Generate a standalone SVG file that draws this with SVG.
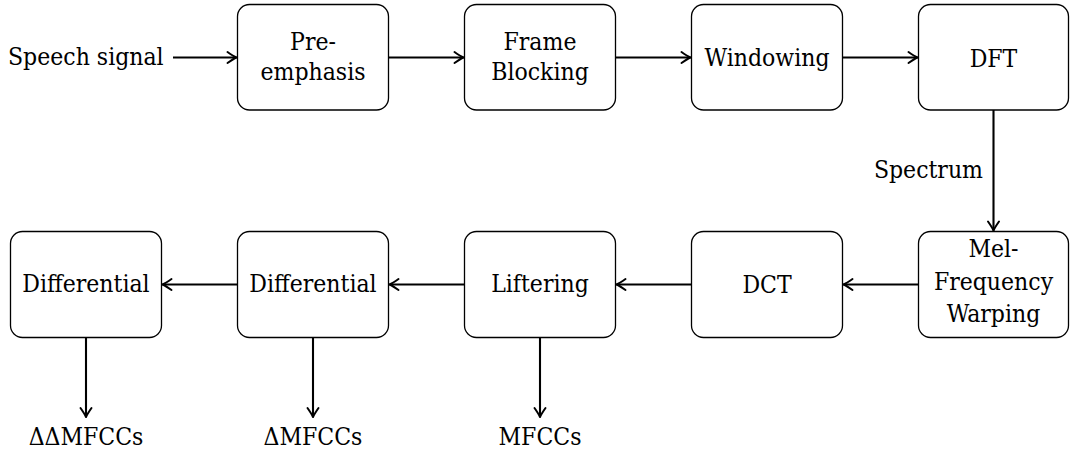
<svg xmlns="http://www.w3.org/2000/svg" width="1070" height="450" viewBox="0 0 1070 450">
  <style>
    .box { fill: #ffffff; stroke: #000000; stroke-width: 1.3; }
    .lbl { font-family: 'DejaVu Serif Condensed', 'DejaVu Serif', serif; font-size: 24.5px; fill: #000000; text-anchor: middle; }
    .lbl-l { text-anchor: start; }
    .lbl-r { text-anchor: end; }
    .edge { fill: none; stroke: #000000; stroke-width: 2.1; marker-end: url(#tip); }
  </style>
  <defs>
    <!-- curved-barb arrow tip, drawn in user units -->
    <marker id="tip" markerUnits="userSpaceOnUse" markerWidth="16" markerHeight="16" viewBox="-12 -8 14 16" refX="0" refY="0" orient="auto">
      <path d="M -9,-5.5 Q -3,-1.3 0,0 Q -3,1.3 -9,5.5" fill="none" stroke="#000000" stroke-width="2" stroke-linecap="round" stroke-linejoin="round"/>
    </marker>
  </defs>

  <rect width="1070" height="450" fill="#ffffff"/>

  <!-- connectors -->
  <g id="connectors">
    <path class="edge" d="M 173,57.5 L 236.5,57.5"/>
    <path class="edge" d="M 388.5,57.5 L 463.5,57.5"/>
    <path class="edge" d="M 615.5,57.5 L 690.5,57.5"/>
    <path class="edge" d="M 842.5,57.5 L 917.5,57.5"/>
    <path class="edge" d="M 993.5,110 L 993.5,230.5"/>
    <path class="edge" d="M 918.5,284.5 L 843.5,284.5"/>
    <path class="edge" d="M 691.5,284.5 L 616.5,284.5"/>
    <path class="edge" d="M 464.5,284.5 L 389.5,284.5"/>
    <path class="edge" d="M 237.5,284.5 L 162.5,284.5"/>
    <path class="edge" d="M 86,337.5 L 86,417"/>
    <path class="edge" d="M 313,337.5 L 313,417"/>
    <path class="edge" d="M 540,337.5 L 540,417"/>
    <text class="lbl lbl-r" x="983" y="178">Spectrum</text>
  </g>

  <!-- input / output terminals -->
  <g id="input">
    <text class="lbl lbl-l" x="8" y="65">Speech signal</text>
  </g>
  <g id="out-ddmfcc"><text class="lbl" x="86" y="445">ΔΔMFCCs</text></g>
  <g id="out-dmfcc"><text class="lbl" x="313" y="445">ΔMFCCs</text></g>
  <g id="out-mfcc"><text class="lbl" x="540" y="445">MFCCs</text></g>

  <!-- processing stages, top row -->
  <g id="preemphasis">
    <rect class="box" x="237.5" y="4.5" width="151" height="105.5" rx="12"/>
    <text class="lbl" x="313" y="50">Pre-</text>
    <text class="lbl" x="313" y="80">emphasis</text>
  </g>
  <g id="frameblocking">
    <rect class="box" x="464.5" y="4.5" width="151" height="105.5" rx="12"/>
    <text class="lbl" x="540" y="50">Frame</text>
    <text class="lbl" x="540" y="80">Blocking</text>
  </g>
  <g id="windowing">
    <rect class="box" x="691.5" y="4.5" width="151" height="105.5" rx="12"/>
    <text class="lbl" x="767" y="66">Windowing</text>
  </g>
  <g id="dft">
    <rect class="box" x="918.5" y="4.5" width="150" height="105.5" rx="12"/>
    <text class="lbl" x="993.5" y="67">DFT</text>
  </g>

  <!-- processing stages, bottom row -->
  <g id="melwarping">
    <rect class="box" x="918.5" y="231.5" width="150" height="106" rx="12"/>
    <text class="lbl" x="993.5" y="257">Mel-</text>
    <text class="lbl" x="993.5" y="290">Frequency</text>
    <text class="lbl" x="993.5" y="322">Warping</text>
  </g>
  <g id="dct">
    <rect class="box" x="691.5" y="231.5" width="151" height="106" rx="12"/>
    <text class="lbl" x="767" y="293">DCT</text>
  </g>
  <g id="liftering">
    <rect class="box" x="464.5" y="231.5" width="151" height="106" rx="12"/>
    <text class="lbl" x="540" y="292">Liftering</text>
  </g>
  <g id="differential1">
    <rect class="box" x="237.5" y="231.5" width="151" height="106" rx="12"/>
    <text class="lbl" x="313" y="292">Differential</text>
  </g>
  <g id="differential2">
    <rect class="box" x="10.5" y="231.5" width="151" height="106" rx="12"/>
    <text class="lbl" x="86" y="292">Differential</text>
  </g>
</svg>
